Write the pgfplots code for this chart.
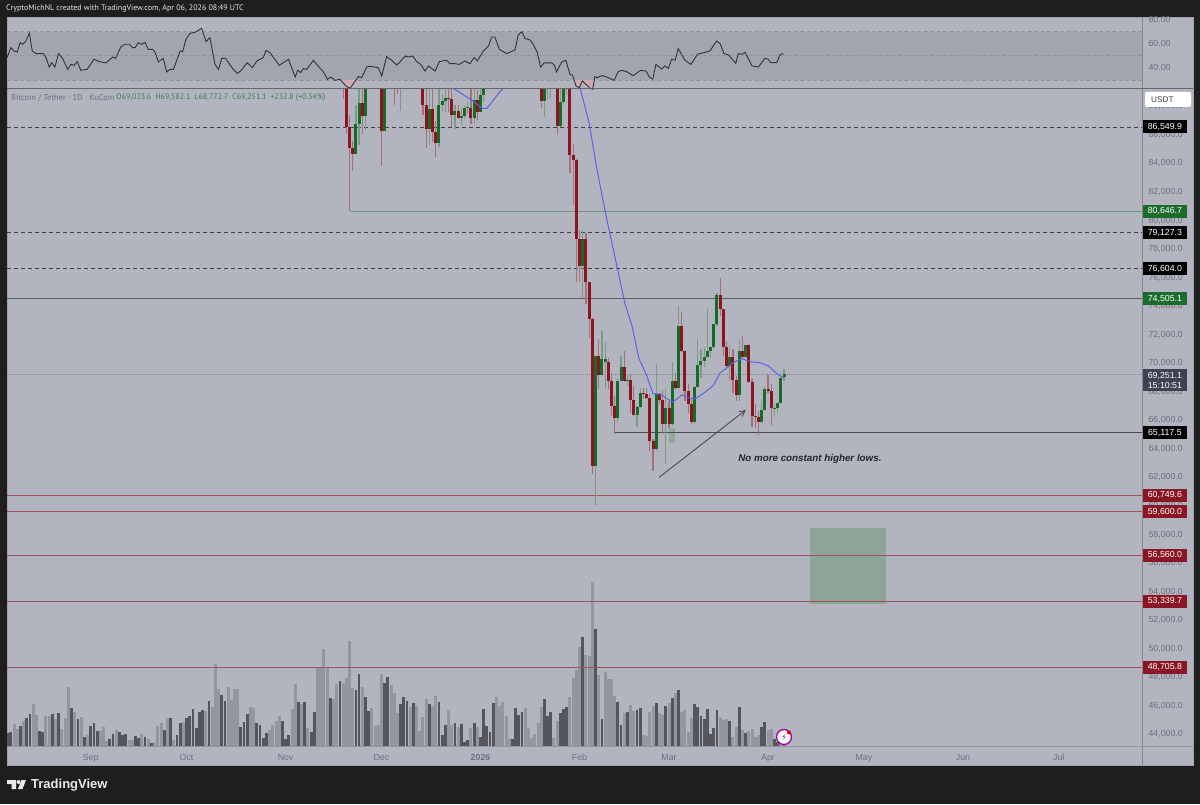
\documentclass[border=0pt]{standalone}
\usepackage{pgfplots}
\usepackage{pgfplotstable}
\usepackage{fontspec}
\pgfplotsset{compat=1.18}
\usetikzlibrary{arrows.meta}
\setmainfont{Liberation Sans}
\newfontfamily\uifont{PT Sans}
\newfontfamily\symfont{DejaVu Sans}
\definecolor{dark}{HTML}{1E1E1E}
\definecolor{panel}{HTML}{B2B5C0}
\definecolor{band}{HTML}{A2A5AF}
\definecolor{sep}{HTML}{85878F}
\definecolor{ticktxt}{HTML}{6C6F7C}
\definecolor{bodyR}{HTML}{8C1420}
\definecolor{bodyG}{HTML}{176A28}
\definecolor{wickR}{HTML}{A5707C}
\definecolor{wickG}{HTML}{7B9C82}
\definecolor{volL}{HTML}{94969F}
\definecolor{volD}{HTML}{55565C}
\definecolor{tagG}{HTML}{1B6B2C}
\definecolor{tagR}{HTML}{8A1525}
\definecolor{tagN}{HTML}{3E414F}
\definecolor{ma}{HTML}{5F61E0}
\definecolor{pinkf}{HTML}{CFA9B4}
\definecolor{legG}{HTML}{3E7D4C}
\definecolor{legN}{HTML}{6C6F7C}
\definecolor{boxG}{HTML}{8AA393}
\definecolor{lvR}{HTML}{A0525F}
\definecolor{lvG}{HTML}{6F9A78}
\definecolor{lvG2}{HTML}{4F6B55}

\pgfplotstableread{
d o h l c
79 90000 90500 88545 89500
80 90500 91000 86085 86555
81 86555 87420 80647 85080
82 85080 85550 83440 84680
85 88265 90000 86085 87330
91 90800 91500 83815 86250
95 90500 91000 88125 90000
96 90400 91000 88895 90100
104 90500 91000 87420 88125
105 88125 89500 85080 86390
107 87840 89300 85500 86205
108 86205 87000 84450 85455
112 88590 89400 87610 88545
113 88545 89400 86555 87420
115 87655 88125 87140 87185
119 87890 89400 86790 87185
121 88425 89130 87025 87610
141 90000 90500 87890 88355
146 90500 91000 86015 86625
150 90000 90500 83350 84610
151 84610 85385 81100 84215
152 84215 84300 75720 78715
153 78715 79300 75670 76800
155 78715 79100 74150 75720
156 75720 75720 71800 73095
157 73095 73200 62260 62800
159 70525 71690 68185 69190
162 70055 70360 68185 68770
163 68770 69350 66310 67015
164 67015 67715 65025 66150
167 69750 70875 68720 68770
169 68840 69190 66545 67410
170 67410 68415 66300 66380
173 67950 68300 67480 67880
174 67880 68300 67480 67550
175 67550 67830 63850 64555
176 64555 64675 62450 63970
178 67880 67900 67130 67410
179 67410 68065 65025 65725
181 66895 67365 65490 65725
183 68770 69350 68185 68250
185 72630 73565 70755 70830
186 70830 70875 67365 68065
187 68065 68535 66545 67175
188 67175 67480 65775 65915
197 74805 75975 73330 73800
198 73800 73800 70525 71155
199 71155 71575 69585 69820
201 70455 70990 67950 68815
202 68815 69120 67365 67785
204 70875 71925 70290 70455
206 71295 71340 68650 68720
207 68720 68885 65540 66310
208 66310 67130 65490 66265
209 66265 66660 64975 65915
212 68185 69190 67950 68065
213 68065 68535 65680 66850
}\candlesdown
\pgfplotstableread{
d o h l c
83 84680 88125 84680 86790
84 86790 89200 85270 88265
86 87330 90500 86320 90000
92 86250 91000 86250 90500
97 90000 90500 87655 90400
106 86390 89400 85270 87840
109 85455 89400 85150 88125
110 88125 88895 87610 88355
111 88355 89400 87610 88590
114 87420 88125 86440 87655
116 87185 87840 86670 87330
117 87330 88125 87140 87890
118 87890 88300 87500 87930
120 87185 89400 86790 88425
122 87610 89400 87610 88825
123 88825 90200 88310 89800
142 88355 90500 87255 90000
143 89800 90500 88495 90100
144 89800 90500 88545 90100
147 86625 89400 86555 88310
148 88310 90500 88125 90000
149 89800 90500 88780 90000
154 76800 79300 74570 78715
158 62800 70525 60000 70525
160 69190 72230 69190 70290
161 70055 71460 68185 70290
165 66150 69000 65845 68770
166 68770 70525 68770 69750
168 68770 69190 68415 68840
171 66380 67000 65540 66945
172 66945 68300 66895 67950
177 63970 69940 63850 67880
180 65725 68185 62965 66895
182 65725 70055 65610 68770
184 68250 74030 68250 72630
189 65915 68415 65775 68370
190 68370 71690 68370 69890
191 69890 70990 69000 70125
192 70125 71110 69705 70455
193 70455 73800 70455 70875
194 70875 71155 70360 71155
195 71155 72745 70990 72745
196 72745 74900 72630 74805
200 69820 71225 68770 70455
203 67785 71690 67365 70875
205 70455 71295 70360 71295
210 65915 67365 65845 66710
211 66710 68415 66660 68185
214 66850 67175 66240 66895
215 66895 67250 66545 67250
216 67250 68955 67175 68955
217 69023.6 69582.1 68772.7 69251.1
}\candlesup

\pgfplotstableread[row sep=\\]{
d h\\
-24 21.7\\ -23 16.7\\ -21 25.3\\ -18 42\\ -17 31\\ -14 30\\ -13 30\\ -11 26.7\\ -9 16.7\\ -8 27.7\\ -7 59\\ -5 34.3\\ -3 28.7\\ -1 11\\ 3 15\\ 4 19\\ 5 5\\ 8 16\\ 12 6\\ 13 6\\ 16 12\\ 18 7\\ 20 3.7\\ 21 19.7\\ 22 22.7\\ 24 27.7\\ 26 6\\ 29 24\\ 36 35.3\\ 38 38.7\\ 39 82\\ 40 56.7\\ 43 59.3\\ 44 46\\ 45 57\\ 46 56.7\\ 50 39.3\\ 51 38.3\\ 56 16\\ 57 21\\ 58 25\\ 59 30.3\\ 63 36.7\\ 64 61.7\\ 66 42.3\\ 68 17.7\\ 71 79.3\\ 72 79.3\\ 73 97\\ 74 79.3\\ 76 46.7\\ 77 62\\ 79 63.3\\ 80 68\\ 81 105\\ 82 58.3\\ 85 59.3\\ 88 37.7\\ 89 20\\ 90 21.3\\ 91 72.3\\ 94 60.7\\ 95 52.7\\ 96 32.7\\
100 38.7\\ 102 40\\ 103 15\\ 104 28.7\\ 105 46.7\\ 107 40.3\\ 108 50\\ 112 35.7\\ 113 21.3\\ 115 19.3\\ 119 17.7\\ 121 19.3\\ 127 49.3\\ 128 40\\ 129 44\\ 130 30\\ 131 8\\ 136 37.7\\ 137 18\\ 138 8.3\\ 139 12.3\\ 140 22.7\\ 141 39.3\\ 145 8.3\\ 146 25\\ 150 49.3\\ 151 68\\ 152 75.7\\ 153 99\\ 155 91\\ 156 90\\ 157 164.3\\ 159 70.7\\ 161 74.3\\ 162 66.7\\ 163 67\\ 164 50\\ 167 32.7\\ 169 41\\ 170 35\\ 173 11\\ 174 10\\ 175 34.3\\ 176 40.3\\ 178 33\\ 179 31\\ 181 42.7\\ 183 53.3\\ 185 34\\ 186 36.3\\ 187 14\\ 188 28\\ 197 28.3\\ 198 26\\ 199 27.3\\ 201 9.3\\ 202 18.7\\ 204 16.3\\ 206 14.7\\ 207 17.3\\ 208 9.3\\ 209 11.3\\ 212 16\\ 213 17.3\\ 216 2.7\\
}\volL
\pgfplotstableread[row sep=\\]{
d h\\
-26 12.7\\ -25 14.3\\ -22 20\\ -20 28.3\\ -19 31.7\\ -16 14.7\\ -15 13.7\\ -12 31.7\\ -10 33\\ -6 37.7\\ -4 26.7\\ -2 9\\ 0 20\\ 1 23\\ 2 15.3\\ 6 6.7\\ 7 12\\ 9 14.3\\ 10 11\\ 11 12\\ 14 9.7\\ 15 8.3\\ 17 9.3\\ 19 3\\ 23 16.3\\ 25 28\\ 27 11\\ 28 22.7\\ 30 27.7\\ 31 30\\ 32 37\\ 33 18\\ 34 34.3\\ 35 36\\ 37 44.7\\ 41 51\\ 42 45\\ 47 19.3\\ 48 24\\ 49 31.7\\ 52 23\\ 53 21.3\\ 54 8.3\\ 55 13\\ 60 25\\ 61 7\\ 62 11.3\\ 65 44.3\\ 67 43.7\\ 69 14\\ 70 34\\ 75 48.3\\ 78 64.7\\ 83 55.7\\ 84 72.3\\ 86 48.7\\ 87 35\\ 92 62.7\\ 93 69\\
97 42\\ 98 49\\ 99 45.3\\ 101 42.7\\ 106 42\\ 109 44\\ 110 11\\ 111 21\\ 114 23\\ 116 21.7\\ 117 4\\ 118 6\\ 120 22.7\\ 122 9.3\\ 123 36.7\\ 124 20.3\\ 125 14\\ 126 43\\ 132 7\\ 133 37.7\\ 134 31.3\\ 135 34\\ 142 47\\ 143 30.3\\ 144 34.3\\ 147 33\\ 148 36.7\\ 149 39.3\\ 154 109\\ 158 117.3\\ 160 27\\ 165 43.7\\ 166 21\\ 168 33.7\\ 171 36\\ 172 37.7\\ 177 42.7\\ 180 40.3\\ 182 47.7\\ 184 55.7\\ 189 42\\ 190 39\\ 191 30.3\\ 192 27.3\\ 193 37\\ 194 12\\ 195 18\\ 196 36\\ 200 24.7\\ 203 39\\ 205 13.3\\ 210 19.3\\ 211 24\\ 214 7\\ 215 4.3\\ 217 1.7\\
}\volD

\pgfplotsset{
 base/.style={scale only axis, width=1135pt, xmin=-26.2, xmax=329.04,
  axis line style={draw=none}, tick style={draw=none}},
 hl/.style={line width=1.1pt, forget plot},
 ebar/.style n args={2}{draw=none, mark=none, forget plot, error bars/.cd, y dir=plus, y explicit, error mark=none,
  error bar style={draw=#1, solid, line width=#2}}
}
\begin{document}
\begin{tikzpicture}[x=1pt,y=1pt]
\useasboundingbox (0,0) rectangle (1200,804);
\fill[dark] (0,0) rectangle (1200,804);
\fill[panel] (7,39) rectangle (1193,787);
\draw[sep!40!panel,line width=.8pt] (7,39) rectangle (1193,787);

%% RSI
\begin{axis}[base, name=rsi, at={(7pt,714.5pt)}, anchor=south west, height=71.5pt,
  ymin=22.15, ymax=81.24, xtick=\empty, ytick={40,60,80}, ytick pos=right,
  yticklabel style={font=\fontsize{8.8}{10}\selectfont, text=ticktxt, xshift=3pt},
  yticklabel pos=right,
  y tick label style={/pgf/number format/.cd, fixed, fixed zerofill, precision=2, assume math mode=true}]
\addplot[fill=band, draw=none, forget plot] coordinates {(-26.2,30) (329.04,30) (329.04,70) (-26.2,70)} -- cycle;
\foreach \v in {30,50,70}{
 \edef\tmp{\noexpand\addplot[forget plot, line width=.8pt, color=sep!55!band, dash pattern=on 4pt off 2.5pt] coordinates {(-26.2,\v) (329.04,\v)};}\tmp
}
\addplot[fill=pinkf, draw=none, forget plot] coordinates {(77.7,30) (78,30.6) (79.9,25) (81.2,23.1) (82.4,27.8) (83.2,30)} -- cycle;
\addplot[fill=pinkf, draw=none, forget plot] coordinates {(151.3,30) (151.9,25) (152.9,23.7) (153.9,29.2) (156.3,23.1) (157.1,22.3) (157.6,30)} -- cycle;
\addplot[color=black!80, line width=.9pt] coordinates {
(-26.2,48.5)(-25.0,56.7)(-24.0,54.0)(-23.0,53.1)(-22.1,60.9)(-21.3,59.5)(-20.3,62.2)(-19.2,68.6)(-18.3,54.0)(-17.1,51.8)(-14.8,51.8)(-14.0,48.5)(-13.0,40.7)(-12.2,44.3)(-11.2,40.7)(-10.1,51.8)(-8.8,47.9)(-7.2,38.8)(-6.2,42.9)(-5.2,42.1)(-4.2,45.2)(-3.1,38.0)(-1.1,38.8)(1.0,47.1)(2.7,45.2)(4.8,44.1)(6.9,49.0)(7.8,47.9)(9.4,57.3)(10.7,59.5)(12.1,59.5)(13.1,56.7)(13.9,56.7)(14.9,60.9)(16.0,59.5)(17.0,61.1)(18.0,55.3)(19.4,55.3)(20.1,53.1)(21.2,44.9)(22.7,47.9)(23.8,36.6)(24.8,38.8)(25.9,38.8)(28.0,54.0)(28.8,53.4)(29.8,63.6)(31.1,68.6)(32.6,69.4)(34.7,72.7)(36.1,61.7)(37.3,65.0)(38.9,42.9)(40.0,38.8)(41.0,47.9)(42.2,47.9)(44.6,38.8)(45.9,35.5)(46.9,37.4)(49.0,44.3)(50.6,40.2)(52.0,45.7)(54.0,48.5)(54.9,54.5)(56.1,52.6)(59.0,42.1)(61.9,47.1)(64.0,32.5)(64.8,38.0)(65.7,36.1)(66.5,39.4)(67.6,38.8)(69.7,46.3)(71.6,40.2)(72.8,36.9)(74.1,30.6)(75.1,32.5)(76.5,29.7)(78.0,30.6)(79.9,25.0)(81.2,23.1)(82.4,27.8)(83.8,32.8)(84.8,31.9)(86.4,40.7)(87.4,41.3)(90.0,40.2)(91.1,33.3)(92.6,49.3)(94.2,46.3)(95.8,42.4)
(96.8,44.9)(98.4,49.8)(99.4,49.0)(100.8,49.8)(102.0,45.2)(103.3,42.9)(104.6,37.4)(105.7,41.6)(107.8,37.4)(109.1,45.2)(111.4,46.3)(112.4,43.5)(114.0,43.5)(115.4,42.9)(117.1,45.7)(118.7,43.5)(120.0,48.5)(121.0,45.7)(122.9,54.0)(124.5,58.1)(125.5,65.5)(126.5,65.5)(127.9,55.3)(130.2,51.8)(132.8,54.8)(133.8,67.2)(134.9,69.9)(135.9,64.4)(137.5,63.1)(138.5,59.5)(139.8,52.6)(140.8,40.7)(141.9,44.1)(144.3,44.1)(145.1,42.4)(145.8,36.6)(147.4,44.9)(148.7,46.3)(150.0,34.7)(150.8,34.1)(151.9,25.0)(152.9,23.7)(153.9,29.2)(156.3,23.1)(157.1,22.3)(157.8,32.8)(158.6,31.9)(159.9,33.6)(161.5,32.5)(163.8,29.7)(165.1,36.9)(166.2,38.0)(167.7,36.9)(169.8,33.6)(172.1,38.0)(173.8,37.4)(175.0,31.9)(175.9,30.8)(176.9,42.9)(178.7,39.1)(179.7,41.6)(180.8,39.6)(181.8,47.1)(182.9,46.3)(183.9,55.9)(186.0,46.3)(187.9,42.9)(189.9,51.2)(193.8,54.0)(195.9,62.2)(197.0,60.0)(198.2,51.8)(199.6,50.7)(201.9,43.8)(202.7,51.8)(203.7,51.2)(204.8,52.9)(207.0,41.6)(209.0,40.7)(211.0,47.9)(212.1,47.1)(212.8,44.3)(214.7,44.3)(215.7,50.7)(216.8,52.0)};
\end{axis}

%% Volume
\begin{axis}[base, at={(7pt,58pt)}, anchor=south west, height=165pt, ymin=0, ymax=165, hide axis]
\addplot[ycomb, draw=volL, line width=3pt] table[x=d,y=h]{\volL};
\addplot[ycomb, draw=volD, line width=2.8pt] table[x=d,y=h]{\volD};
\end{axis}

%% Price
\begin{axis}[base, name=main, at={(7pt,57.3pt)}, anchor=south west, height=657pt,
  ymin=43138.4, ymax=89163, ytick={44000,46000,...,88000}, ytick pos=right, yticklabel pos=right,
  xtick={0,30,61,91,122,153,181,212,242,273,303}, xtick pos=bottom,
  xticklabels={Sep,Oct,Nov,Dec,\textbf{2026},Feb,Mar,Apr,May,Jun,Jul},
  xticklabel style={font=\fontsize{8.8}{10}\selectfont, text=ticktxt, yshift=-4pt},
  yticklabel style={font=\fontsize{8.8}{10}\selectfont, text=ticktxt, xshift=3pt},
  y tick label style={/pgf/number format/.cd, fixed, fixed zerofill, precision=1, 1000 sep={,}, assume math mode=true},
  scaled y ticks=false]
%% target box
\addplot[fill=boxG, fill opacity=.92, draw=none, forget plot] coordinates {(225.1,53155) (248.9,53155) (248.9,58480) (225.1,58480)} -- cycle;
\addplot[fill=wickG!85!white, draw=none, forget plot] coordinates {(181,64434) (182.9,64434) (182.9,65484) (181,65484)} -- cycle;
%% levels
\addplot[hl, color=black!75, line width=1pt, dash pattern=on 4pt off 3pt] coordinates {(-26.2,86549.9) (329.04,86549.9)};
\addplot[hl, color=lvG, line width=1.4pt] coordinates {(81,80646.7) (329.04,80646.7)};
\addplot[hl, color=black!75, line width=1pt, dash pattern=on 4pt off 3pt] coordinates {(-26.2,79127.3) (329.04,79127.3)};
\addplot[hl, color=black!75, line width=1pt, dash pattern=on 4pt off 3pt] coordinates {(-26.2,76604.0) (329.04,76604.0)};
\addplot[hl, color=lvG2] coordinates {(-26.2,74505.1) (329.04,74505.1)};
\addplot[hl, color=sep, line width=.7pt, dash pattern=on 1pt off 1pt] coordinates {(-26.2,69251.1) (329.04,69251.1)};
\addplot[hl, color=black!70, line width=1pt] coordinates {(163.7,65117.5) (329.04,65117.5)};
\addplot[hl, color=lvR] coordinates {(-26.2,60749.6) (329.04,60749.6)};
\addplot[hl, color=lvR] coordinates {(-26.2,59600.0) (329.04,59600.0)};
\addplot[hl, color=lvR] coordinates {(-26.2,56560.0) (329.04,56560.0)};
\addplot[hl, color=lvR] coordinates {(-26.2,53339.7) (329.04,53339.7)};
\addplot[hl, color=lvR] coordinates {(-26.2,48705.8) (329.04,48705.8)};
%% wicks
\addplot[ebar={wickR}{1.2pt}] table[x=d, y=l, y error plus expr=\thisrow{h}-\thisrow{l}]{\candlesdown};
\addplot[ebar={wickG}{1.2pt}] table[x=d, y=l, y error plus expr=\thisrow{h}-\thisrow{l}]{\candlesup};
%% bodies
\addplot[ebar={bodyR}{3pt}] table[x=d, y=c, y error plus expr=\thisrow{o}-\thisrow{c}]{\candlesdown};
\addplot[ebar={bodyG}{3pt}] table[x=d, y=o, y error plus expr=\thisrow{c}-\thisrow{o}]{\candlesup};
%% MA
\addplot[color=ma, line width=1pt, forget plot] coordinates {(108,90300)(113.4,89265)(119.3,88424)(122.5,87862)(124,87862)(129,89265)(135,93000)(150,91500)(153.2,89265)(156,86810)(158.5,83511)(161.6,80003)(165,76493)(167.2,74177)(169.4,72633)(171.6,70317)(173.8,69264)(176,67861)(178.2,67861)(180.4,67509)(182.3,67299)(185.1,67791)(187,67581)(189.1,67509)(191.6,67861)(194.8,68423)(197,69335)(199.2,69686)(201,70037)(203.8,70317)(206.4,70107)(209.5,70037)(212,69826)(214.8,69264)(216.7,68984)};
%% arrow
\addplot[forget plot, color=black!75, line width=.8pt, -{Straight Barb[length=6pt,width=6pt]}] coordinates {(177.9,62003) (205,66724)};
\end{axis}

%% separators and scale frame
\draw[sep,line width=.9pt] (1142.5,39) -- (1142.5,787);
\draw[black!60,line width=1pt] (7,715.5) -- (1193,715.5);
\draw[sep!70!panel,line width=.9pt] (7,57.5) -- (1193,57.5);

%% price tags and annotation, placed on the price scale
\begin{axis}[base, at={(7pt,57.3pt)}, anchor=south west, height=657pt, ymin=43138.4, ymax=89163, hide axis, clip=false]
\newcommand{\tag}[3]{\node[fill=#1, text=white, minimum width=44pt, minimum height=13pt, inner sep=0pt,
  font=\fontsize{8.8}{10}\selectfont] at (axis cs:336.2,#2) {#3};}
\tag{black}{86549.9}{86,549.9}
\tag{tagG}{80646.7}{80,646.7}
\tag{black}{79127.3}{79,127.3}
\tag{black}{76604.0}{76,604.0}
\tag{tagG}{74505.1}{74,505.1}
\tag{black}{65117.5}{65,117.5}
\tag{tagR}{60749.6}{60,749.6}
\tag{tagR}{59600.0}{59,600.0}
\tag{tagR}{56560.0}{56,560.0}
\tag{tagR}{53339.7}{53,339.7}
\tag{tagR}{48705.8}{48,705.8}
\node[fill=tagN, text=white, minimum width=44pt, minimum height=22pt, inner sep=0pt, align=center,
  font=\fontsize{8.8}{10.5}\selectfont] at (axis cs:336.2,68800) {69,251.1\\15:10:51};
\node[font=\bfseries\itshape\fontsize{9.8}{11}\selectfont, text=black!85] at (axis cs:225.1,63313) {No more constant higher lows.};
\end{axis}

%% usdt box
\fill[white,rounded corners=2pt] (1145,697) rectangle (1191,712);
\node[anchor=west,inner sep=0pt,font=\fontsize{8.2}{10}\selectfont,text=black!75] at (1151,704.5) {USDT};

%% header, legend
\node[anchor=west,inner sep=0pt,text=white!90!black,font=\uifont\fontsize{8}{11}\selectfont] at (6,795) {CryptoMichNL created with TradingView.com, Apr 06, 2026 08:49 UTC};
\node[anchor=west,inner sep=0pt,text=legN,font=\uifont\fontsize{8.4}{10}\selectfont] at (11,706) {Bitcoin / Tether · 1D · KuCoin};
\node[anchor=west,inner sep=0pt,text=legG,font=\uifont\fontsize{8}{10}\selectfont] at (116,706) {O69,023.6\hspace{4pt}H69,582.1\hspace{4pt}L68,772.7\hspace{4pt}C69,251.1\hspace{4pt}+232.8 (+0.34\%)};

%% lightning badge
\filldraw[fill=white,draw=violet!70!magenta,line width=1.3pt] (784,67) circle (7.5);
\node[inner sep=0pt,font=\symfont\fontsize{8.5}{9}\selectfont,text=violet!70!magenta] at (784,67) {⚡};
\fill[red!85!black] (789,71.5) circle (2);

%% footer logo
\fill[white!92!black] (7,24) -- (16,24) -- (16,15) -- (11.5,15) -- (11.5,20) -- (7,20) -- cycle;
\fill[white!92!black] (18.5,22) circle (2);
\fill[white!92!black] (21.5,24) -- (26,24) -- (22.5,15) -- (18,15) -- cycle;
\node[anchor=west,inner sep=0pt,text=white!92!black,font=\bfseries\fontsize{13}{16}\selectfont] at (31,19) {TradingView};
\end{tikzpicture}
\end{document}
